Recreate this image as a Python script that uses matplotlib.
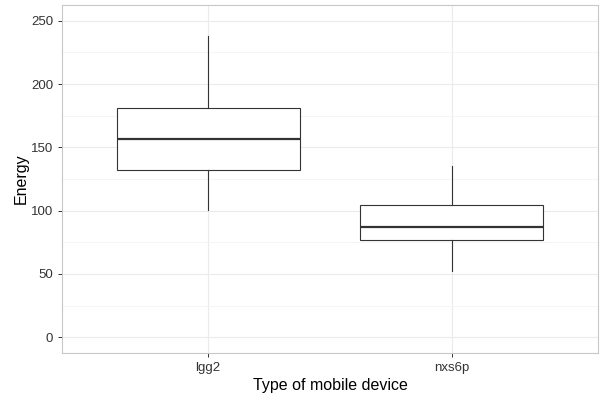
import matplotlib
matplotlib.use("Agg")
import matplotlib.pyplot as plt
from matplotlib.ticker import MultipleLocator

# Box statistics
devices = ["lgg2", "nxs6p"]
whisker_low = [100.6, 52.4]
q1 = [132.3, 76.9]
median = [156.5, 87.2]
q3 = [181.3, 104.3]
whisker_high = [238.0, 135.2]

plt.rcParams["font.family"] = ["Liberation Sans", "DejaVu Sans"]

stats = []
for i, name in enumerate(devices):
    stats.append({
        "label": name,
        "whislo": whisker_low[i],
        "q1": q1[i],
        "med": median[i],
        "q3": q3[i],
        "whishi": whisker_high[i],
        "fliers": [],
    })

fig = plt.figure(figsize=(6.05, 3.95), dpi=100)
ax = fig.add_axes([62 / 605, 42 / 395, 536 / 605, 348 / 395])

ax.bxp(
    stats,
    positions=[1, 2],
    widths=0.75,
    showfliers=False,
    showcaps=False,
    patch_artist=True,
    boxprops=dict(facecolor="white", edgecolor="#333333", linewidth=0.8),
    whiskerprops=dict(color="#333333", linewidth=0.8),
    medianprops=dict(color="#333333", linewidth=1.6),
    zorder=3,
)

ax.set_xlim(0.4, 2.6)
ax.set_ylim(-12.5, 262.5)
ax.yaxis.set_major_locator(MultipleLocator(50))
ax.yaxis.set_minor_locator(MultipleLocator(25))

# grille majeure et mineure, style ggplot theme_bw
ax.grid(which="major", color="#ebebeb", linewidth=0.8, zorder=0)
ax.grid(which="minor", axis="y", color="#f4f4f4", linewidth=0.6, zorder=0)
ax.set_axisbelow(True)

for s in ax.spines.values():
    s.set_color("#c8c8c8")
    s.set_linewidth(0.8)

ax.tick_params(which="major", colors="#333333", labelcolor="#333333",
               labelsize=9.5, length=3, width=0.7)
ax.tick_params(which="minor", length=0)

ax.set_xticks([1, 2])
ax.set_xticklabels(devices)
ax.set_xlabel("Type of mobile device", fontsize=11.5, labelpad=3)
ax.set_ylabel("Energy", fontsize=11.5, labelpad=1.5)

fig.savefig("out.png", dpi=100)
